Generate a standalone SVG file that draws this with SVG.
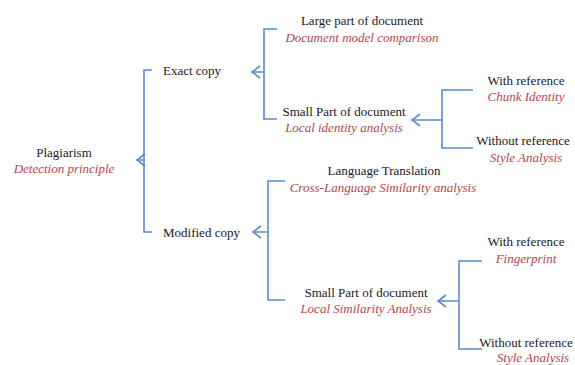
<svg xmlns="http://www.w3.org/2000/svg" xmlns:xlink="http://www.w3.org/1999/xlink" width="575" height="365" viewBox="0 0 575 365">
  <style>
    .ln { fill: none; stroke: #5a8ad0; stroke-width: 1.6; }
    text { font-family: 'Liberation Serif', 'DejaVu Serif', 'Noto Serif', Tinos, 'Times New Roman', Times, serif; font-size: 13px; }
    .t { fill: #1a1a1a; }
    .s { font-style: italic; fill: #b4464a; }
    .m { text-anchor: middle; }
  </style>
  <defs>
    <path id="chev" class="ln" d="M8,-6 L0,0 L8,6"/>
  </defs>
  <rect width="575" height="365" fill="#ffffff"/>

  <g id="connectors">
    <path class="ln" d="M152,70 H144 V232 H152 M137,160 H144"/>
    <use xlink:href="#chev" x="137" y="160"/>
    <path class="ln" d="M277,29 H264 V119 H277 M252,72 H264"/>
    <use xlink:href="#chev" x="252" y="72"/>
    <path class="ln" d="M473,90 H442 V148 H473 M412,120 H442"/>
    <use xlink:href="#chev" x="412" y="120"/>
    <path class="ln" d="M285,181 H268 V300 H285 M253,232 H268"/>
    <use xlink:href="#chev" x="253" y="232"/>
    <path class="ln" d="M482,261 H459 V349 H482 M438,301 H459"/>
    <use xlink:href="#chev" x="438" y="301"/>
  </g>

  <g id="root">
    <text class="t m" x="64" y="157">Plagiarism</text>
    <text class="s m" x="64" y="173">Detection principle</text>
  </g>
  <g id="exact-copy">
    <text class="t" x="163" y="75">Exact copy</text>
  </g>
  <g id="modified-copy">
    <text class="t" x="163" y="237">Modified copy</text>
  </g>
  <g id="large-part">
    <text class="t m" x="362" y="25">Large part of document</text>
    <text class="s m" x="362" y="42">Document model comparison</text>
  </g>
  <g id="small-part-1">
    <text class="t m" x="344" y="116">Small Part of document</text>
    <text class="s m" x="344" y="132">Local identity analysis</text>
  </g>
  <g id="with-ref-1">
    <text class="t m" x="526" y="85">With reference</text>
    <text class="s m" x="526" y="101">Chunk Identity</text>
  </g>
  <g id="without-ref-1">
    <text class="t m" x="523" y="145">Without reference</text>
    <text class="s m" x="526" y="162">Style Analysis</text>
  </g>
  <g id="language-translation">
    <text class="t m" x="384" y="175">Language Translation</text>
    <text class="s m" x="383" y="192">Cross-Language Similarity analysis</text>
  </g>
  <g id="small-part-2">
    <text class="t m" x="366" y="297">Small Part of document</text>
    <text class="s m" x="366" y="313">Local Similarity Analysis</text>
  </g>
  <g id="with-ref-2">
    <text class="t m" x="526" y="246">With reference</text>
    <text class="s m" x="526" y="263">Fingerprint</text>
  </g>
  <g id="without-ref-2">
    <text class="t m" x="526" y="347">Without reference</text>
    <text class="s m" x="533" y="362">Style Analysis</text>
  </g>
</svg>
